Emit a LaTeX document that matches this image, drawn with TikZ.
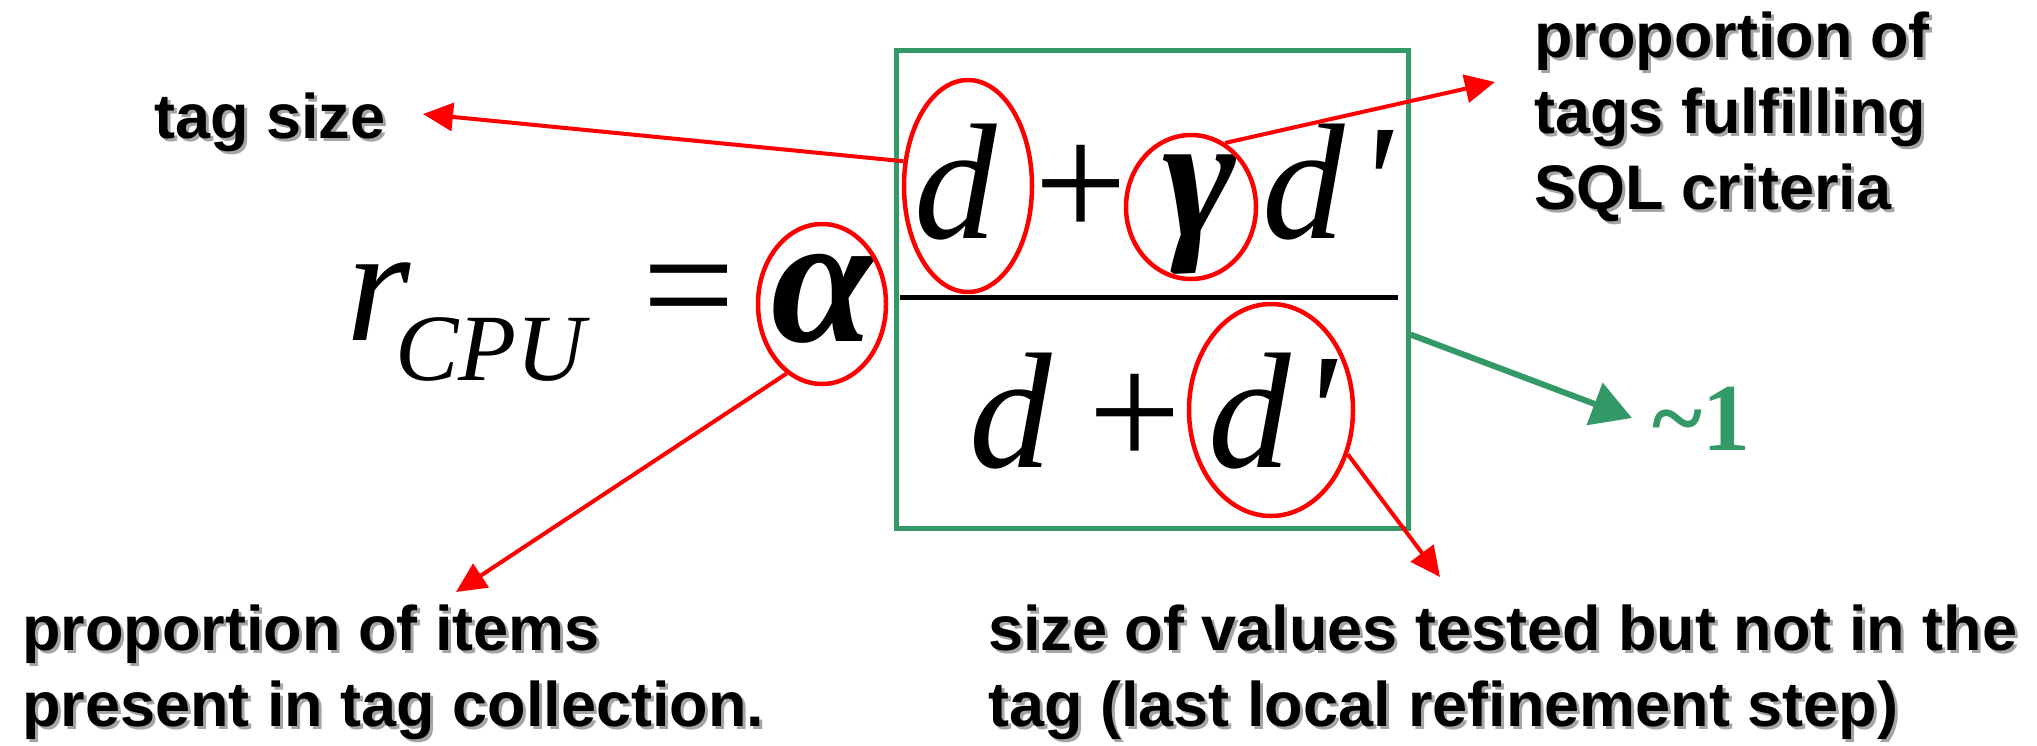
\documentclass[tikz,border=0pt]{standalone}
\usepackage{fontspec}
\setmainfont{Liberation Serif}
\newfontfamily\labelfont{Liberation Sans}
\newfontfamily\primefont{Liberation Serif}
\usetikzlibrary{arrows.meta,positioning,shapes.geometric}

\definecolor{boxgreen}{RGB}{51,153,102}
\definecolor{shadowgrey}{RGB}{165,165,165}
% grey drop shadow behind the callout text
\newcommand{\shd}[1]{\leavevmode\rlap{\kern3pt\raisebox{-3pt}{\color{shadowgrey}#1}}#1}
% straight prime
\newcommand{\prm}{{\primefont '}}

\begin{document}
\begin{tikzpicture}[
x=1pt, y=-1pt,
sym/.style={inner sep=0pt, anchor=base, font=\fontsize{165}{198}\selectfont\itshape},
upright/.style={font=\fontsize{165}{198}\selectfont},
greek/.style={font=\fontsize{#1}{200}\selectfont\bfseries\itshape},
ring/.style={draw=red, line width=4.5pt, ellipse, inner sep=0pt},
callout/.style={inner sep=0pt, anchor=base west, align=left, font=\labelfont\bfseries\fontsize{63}{76}\selectfont},
arrow/.style={-{Triangle[length=30pt,width=28pt]}, red, line width=4pt},
greenarrow/.style={-{Triangle[length=40pt,width=44pt]}, boxgreen, line width=6pt}
]
\fill[white] (0,0) rectangle (2037,745);
\useasboundingbox (0,0) rectangle (2037,745);

% left hand side
\node[sym] (r) at (379,340) {r};
\node[sym, font=\fontsize{95}{114}\selectfont\itshape] (cpu) at (490,380) {CPU};
\node[sym, upright] (eq) at (689,340) {=};
\node[sym, greek=185] (alpha) at (823,341) {α};

% fraction
\node[draw=boxgreen, line width=5pt, minimum width=512, minimum height=478, inner sep=0pt] (fracbox) at (1152,289) {};
\draw[line width=5pt] (900,297) -- (1398,297);
\node[sym] (d1) at (956,238) {d};
\node[sym, upright] (p1) at (1081,238) {+};
\node[sym, greek=178] (gamma) at (1200,236) {γ};
\node[sym] (dd1) at (1327,238) {d\kern11pt\prm};
\node[sym] (d2) at (1011,467) {d};
\node[sym, upright] (p2) at (1135,467) {+};
\node[sym] (dd2) at (1272,467) {d\kern10pt\prm};

% circled terms
\node[ring, minimum width=128, minimum height=212] (dring) at (968,186) {};
\node[ring, minimum width=130, minimum height=144] (gring) at (1191,207) {};
\node[ring, minimum width=128, minimum height=160] (aring) at (822,304) {};
\node[ring, minimum width=164, minimum height=212] (dpring) at (1271,410) {};

% explanations
\node[callout] (tagsize) at (154,138) {\shd{tag size}};
\node[callout] (gammalabel) at (1534,209) {\shd{proportion of}\\\shd{tags fulfilling}\\\shd{SQL criteria}};
\node[callout] (alphalabel) at (22,726) {\shd{proportion of items}\\\shd{present in tag collection.}};
\node[callout] (dplabel) at (988,726) {\shd{size of values tested but not in the}\\\shd{tag (last local refinement step)}};
\node[inner sep=0pt, anchor=base west, text=boxgreen, font=\fontsize{96}{115}\selectfont\bfseries] (approx) at (1652,450) {\textasciitilde1};

\coordinate (tagtip) at (423,114);
\coordinate (gammatip) at (1495,82);
\coordinate (alphatip) at (456,592);
\coordinate (dptip) at (1440,577);
\coordinate (onetip) at (1632,418);

\draw[arrow] (dring.159) -- (tagtip);
\draw[arrow] (gring.62) -- (gammatip);
\draw[arrow] (aring.243) -- (alphatip);
\draw[arrow] (dpring.-30) -- (dptip);
\draw[greenarrow] (fracbox.-10.8) -- (onetip);
\end{tikzpicture}
\end{document}
